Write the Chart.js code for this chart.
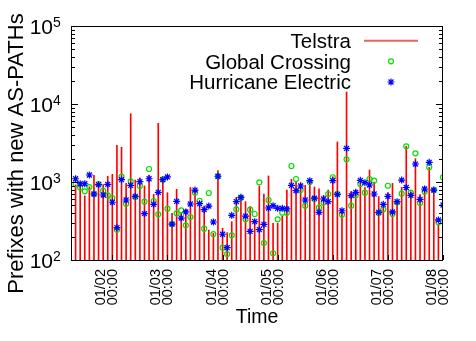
<!DOCTYPE html>
<html>
<head>
<meta charset="utf-8">
<script src="https://cdn.jsdelivr.net/npm/chart.js@4.4.1/dist/chart.umd.min.js"></script>
<style>
    html, body { margin: 0; padding: 0; background: #fff; }
</style>
</head>
<body>
<canvas id="prefix-graph" width="476" height="341"></canvas>
<script>
// hours since 01/01 00:00, one sample every 2 hours
const hours = [6, 8, 10, 12, 14, 16, 18, 20, 22, 24, 26, 28, 30, 32, 34, 36, 38, 40, 42, 44,
    46, 48, 50, 52, 54, 56, 58, 60, 62, 64, 66, 68, 70, 72, 74, 76, 78, 80, 82, 84,
    86, 88, 90, 92, 94, 96, 98, 100, 102, 104, 106, 108, 110, 112, 114, 116, 118, 120, 122, 124,
    126, 128, 130, 132, 134, 136, 138, 140, 142, 144, 146, 148, 150, 152, 154, 156, 158, 160, 162, 164,
    166, 168];

const dayTicks = [24, 48, 72, 96, 120, 144, 168];
const dayLabels = ["01/02", "01/03", "01/04", "01/05", "01/06", "01/07", "01/08"];
const yExponents = [2, 3, 4, 5];

const telstra = [null, 920, 960, 662, 870, 1220, 980, 925, 1185, 1255,
    2950, 2790, 960, 7500, 1060, 1135, 889, 1230, 695, 5650,
    1060, 730, 397, 806, 404, 447, 850, 806, 533, 492,
    242, 220, 1400, 255, 224, 310, 636, 636, 560, 483,
    326, 889, 702, 1195, 295, 295, 366, 789, 1083, 1010,
    980, 905, 1083, 863, 820, 675, 789, 1170, 3260, 397,
    14250, 760, 789, 960, 850, 1425, 1000, 650, 492, 730,
    960, 565, 850, 2870, 750, 1990, 690, 870, 1540, 789,
    289, 500];

const globalCrossing = [null, 935, 845, 760, 860, 700, 943, 775, 675, 624,
    245, 1170, 527, 1020, 640, 889, 560, 1468, 571, 385,
    1080, 455, 289, 397, 433, 278, 356, 730, 575, 252,
    723, 215, 1185, 144, 119, 207, 447, 630, 332, 442,
    389, 990, 165, 588, 122, 332, 404, 404, 1604, 1093,
    789, 497, 1000, 605, 468, 545, 702, 1150, 702, 381,
    1955, 497, 675, 943, 730, 1093, 1040, 400, 447, 895,
    389, 545, 708, 2870, 730, 2330, 538, 750, 1540, 789,
    305, 1150];

const hurricaneElectric = [null, 1100, 950, 950, 1230, 702, 925, 681, 935, 550,
    260, 1070, 588, 905, 655, 1010, 392, 1100, 517, 738,
    1070, 1160, 289, 565, 345, 413, 522, 789, 527, 442,
    492, 307, 1185, 214, 144, 374, 560, 636, 366, 233,
    310, 245, 286, 464, 497, 460, 460, 451, 905, 775,
    889, 588, 1040, 620, 409, 605, 560, 1040, 695, 428,
    2700, 668, 738, 1050, 980, 915, 702, 409, 517, 655,
    413, 560, 1060, 850, 675, 1700, 600, 813, 1790, 789,
    326, 507];

const fontFamily = "'Liberation Sans', Arial, Helvetica, sans-serif";

function toPoints(values) {
    return hours.map((hour, i) => ({ x: hour, y: values[i] }));
}

// gnuplot-like frame: box, inward ticks, 10^n labels, y title, legend inside top right
const framePlugin = {
    id: "frame",
    afterDraw(chart) {
        const ctx = chart.ctx;
        const area = chart.chartArea;
        const yScale = chart.scales.y;
        const xScale = chart.scales.x;

        ctx.save();
        ctx.strokeStyle = "#000";
        ctx.lineWidth = 1;
        ctx.beginPath();
        for (let e = 2; e <= 4; e++) {
            for (let m = 1; m <= 9; m++) {
                const py = Math.round(yScale.getPixelForValue(m * Math.pow(10, e))) + 0.5;
                const len = m === 1 ? 7 : 4;
                ctx.moveTo(area.left, py);
                ctx.lineTo(area.left + len, py);
                ctx.moveTo(area.right, py);
                ctx.lineTo(area.right - len, py);
            }
        }
        dayTicks.forEach((hour) => {
            const px = Math.round(xScale.getPixelForValue(hour)) + 0.5;
            ctx.moveTo(px, area.bottom);
            ctx.lineTo(px, area.bottom - 5);
        });
        ctx.stroke();
        ctx.strokeRect(Math.round(area.left) + 0.5, Math.round(area.top) + 0.5,
            Math.round(area.right - area.left) - 1, Math.round(area.bottom - area.top));

        // y tick labels
        ctx.fillStyle = "#000";
        ctx.textBaseline = "alphabetic";
        yExponents.forEach((exp) => {
            const py = yScale.getPixelForValue(Math.pow(10, exp));
            ctx.font = "21px " + fontFamily;
            ctx.textAlign = "right";
            ctx.fillText("10", 53, py + 8);
            ctx.font = "14px " + fontFamily;
            ctx.textAlign = "left";
            ctx.fillText(String(exp), 53, py + 0.7);
        });

        // y title
        ctx.save();
        ctx.translate(23, 153.5);
        ctx.rotate(-Math.PI / 2);
        ctx.font = "22px " + fontFamily;
        ctx.textAlign = "center";
        ctx.fillText("Prefixes with new AS-PATHs", 0, 0);
        ctx.restore();

        // legend
        chart.data.datasets.forEach((ds, i) => {
            const rowY = area.top + 14.7 + i * 20.65;
            ctx.font = "20.5px " + fontFamily;
            ctx.textAlign = "right";
            ctx.fillStyle = "#000";
            ctx.fillText(ds.label, area.right - 92, rowY + 7.3);
            const mx = area.right - 52;
            if (ds.type === "bar") {
                ctx.strokeStyle = "#f06060";
                ctx.lineWidth = 2;
                ctx.beginPath();
                ctx.moveTo(area.right - 79, rowY);
                ctx.lineTo(area.right - 25, rowY);
                ctx.stroke();
            } else if (ds.pointStyle === "circle") {
                ctx.strokeStyle = ds.pointBorderColor;
                ctx.lineWidth = ds.pointBorderWidth;
                ctx.beginPath();
                ctx.arc(mx, rowY, ds.pointRadius, 0, Math.PI * 2);
                ctx.stroke();
            } else {
                const r = ds.pointRadius;
                const d = r * Math.SQRT1_2;
                ctx.strokeStyle = ds.pointBorderColor;
                ctx.lineWidth = ds.pointBorderWidth;
                ctx.beginPath();
                ctx.moveTo(mx - r, rowY); ctx.lineTo(mx + r, rowY);
                ctx.moveTo(mx, rowY - r); ctx.lineTo(mx, rowY + r);
                ctx.moveTo(mx - d, rowY - d); ctx.lineTo(mx + d, rowY + d);
                ctx.moveTo(mx - d, rowY + d); ctx.lineTo(mx + d, rowY - d);
                ctx.stroke();
            }
        });
        ctx.restore();
    },
};

new Chart(document.getElementById("prefix-graph"), {
    type: "scatter",
    data: {
        datasets: [
            {
                type: "bar",
                label: "Telstra",
                data: toPoints(telstra),
                backgroundColor: "#ff0000",
                borderWidth: 0,
                barThickness: 1,
                order: 3,
            },
            {
                label: "Global Crossing",
                data: toPoints(globalCrossing),
                pointStyle: "circle",
                pointRadius: 2.5,
                pointBorderWidth: 1.2,
                pointBorderColor: "#00e000",
                pointBackgroundColor: "rgba(0,0,0,0)",
                order: 2,
            },
            {
                label: "Hurricane Electric",
                data: toPoints(hurricaneElectric),
                pointStyle: "star",
                pointRadius: 3.5,
                pointBorderWidth: 1.2,
                pointBorderColor: "#0000ff",
                pointBackgroundColor: "#0000ff",
                order: 1,
            },
        ],
    },
    options: {
        responsive: false,
        animation: false,
        devicePixelRatio: 1,
        events: [],
        layout: { padding: { left: 0, right: 17, top: 26, bottom: 0 } },
        plugins: {
            legend: { display: false },
            tooltip: { enabled: false },
        },
        scales: {
            x: {
                type: "linear",
                min: 6,
                max: 168,
                offset: false,
                grid: { display: false, drawTicks: false },
                border: { display: false },
                afterBuildTicks: (scale) => {
                    scale.ticks = dayTicks.map((v) => ({ value: v }));
                },
                afterFit: (scale) => {
                    scale.height = 81;
                },
                ticks: {
                    autoSkip: false,
                    minRotation: 90,
                    maxRotation: 90,
                    padding: 9,
                    labelOffset: -11,
                    color: "#000",
                    font: { family: fontFamily, size: 14.5, lineHeight: "12px" },
                    callback: (value) => [dayLabels[dayTicks.indexOf(value)], "00:00"],
                },
                title: {
                    display: true,
                    text: "Time",
                    color: "#000",
                    font: { family: fontFamily, size: 19.5 },
                    padding: { top: 0, bottom: 12 },
                },
            },
            y: {
                type: "logarithmic",
                min: 100,
                max: 100000,
                grid: { display: false },
                border: { display: false },
                ticks: { display: false },
                afterFit: (scale) => {
                    scale.width = 71;
                },
            },
        },
    },
    plugins: [framePlugin],
});
</script>
</body>
</html>
